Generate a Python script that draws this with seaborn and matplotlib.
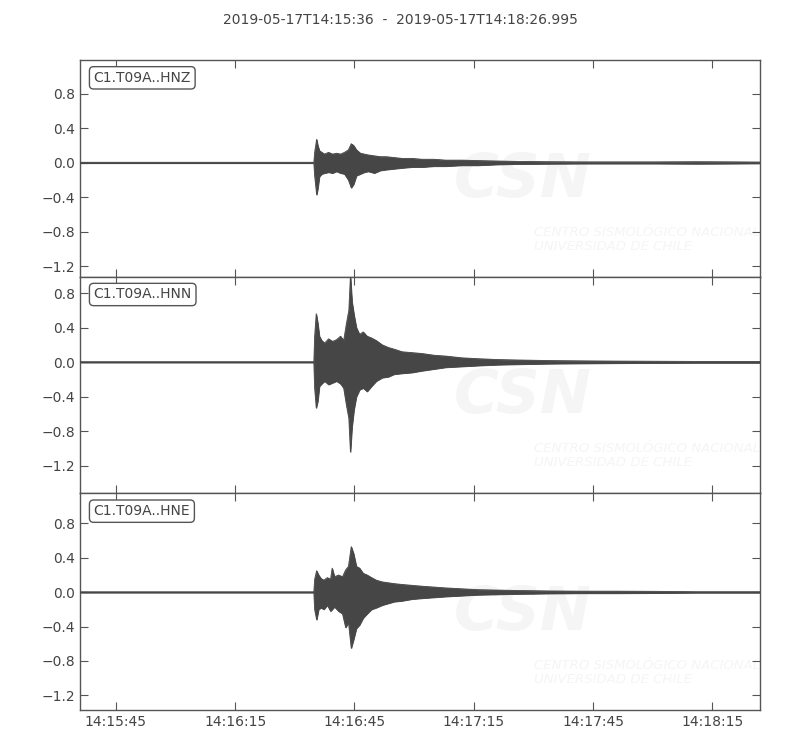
import numpy as np
import pandas as pd
import matplotlib
matplotlib.use("Agg")
import matplotlib.pyplot as plt
import matplotlib.dates as mdates
import seaborn as sns

sns.set_theme(style="ticks", rc={
    "xtick.direction": "in", "ytick.direction": "in",
    "xtick.top": True, "ytick.right": True,
    "xtick.major.size": 6, "ytick.major.size": 6,
    "xtick.major.width": 0.8, "ytick.major.width": 0.8,
    "axes.edgecolor": "#555555", "axes.linewidth": 1.0,
    "xtick.color": "#555555", "ytick.color": "#555555",
    "xtick.labelcolor": "#444444", "ytick.labelcolor": "#444444",
    "xtick.labelsize": 10, "ytick.labelsize": 10,
})
plt.rcParams["font.family"] = ["DejaVu Sans"]

start = pd.Timestamp("2019-05-17 14:15:36")
end = pd.Timestamp("2019-05-17 14:18:26.995")
title = "2019-05-17T14:15:36  -  2019-05-17T14:18:26.995"

# envelope of each trace (seconds after start, upper and lower amplitude)
hnz_t = [0, 58.8, 59.0, 59.5, 59.8, 60.2, 60.8, 61.5, 62.5, 63.5, 64.5, 65.5, 66.5, 67.5, 68.2, 68.8,
         69.5, 70.5, 71.5, 72.5, 74, 75.5, 77, 79, 81, 83.5, 86, 89, 92, 96, 100, 105, 110, 118, 126,
         135, 145, 155, 165, 171]
hnz_up = [0.005, 0.005, 0.12, 0.27, 0.2, 0.14, 0.12, 0.1, 0.12, 0.1, 0.11, 0.1, 0.12, 0.15, 0.22, 0.2,
          0.15, 0.11, 0.1, 0.09, 0.08, 0.07, 0.07, 0.06, 0.05, 0.05, 0.04, 0.04, 0.03, 0.03, 0.025, 0.02,
          0.015, 0.012, 0.01, 0.01, 0.01, 0.012, 0.01, 0.008]
hnz_lo = [-0.005, -0.005, -0.15, -0.37, -0.3, -0.16, -0.13, -0.12, -0.11, -0.12, -0.1, -0.12, -0.13,
          -0.2, -0.29, -0.25, -0.15, -0.13, -0.11, -0.1, -0.12, -0.09, -0.08, -0.07, -0.06, -0.05, -0.05,
          -0.04, -0.04, -0.03, -0.03, -0.02, -0.015, -0.012, -0.01, -0.01, -0.01, -0.012, -0.01, -0.008]

hnn_t = [0, 58.8, 59.0, 59.4, 59.8, 60.2, 60.8, 61.5, 62.5, 63.5, 64.5, 65.5, 66.3, 67.0, 67.6, 68.0,
         68.4, 68.9, 69.5, 70.3, 71.2, 72.2, 73.3, 74.5, 76, 77.5, 79, 81, 83.5, 86, 89, 92, 96, 100,
         105, 110, 118, 126, 135, 145, 155, 165, 171]
hnn_up = [0.005, 0.005, 0.3, 0.56, 0.45, 0.3, 0.25, 0.22, 0.27, 0.24, 0.26, 0.3, 0.25, 0.45, 0.6, 1.0,
          0.7, 0.55, 0.4, 0.32, 0.35, 0.3, 0.28, 0.25, 0.2, 0.17, 0.15, 0.12, 0.11, 0.1, 0.08, 0.07, 0.05,
          0.04, 0.03, 0.025, 0.018, 0.015, 0.012, 0.01, 0.008, 0.008, 0.008]
hnn_lo = [-0.005, -0.005, -0.3, -0.53, -0.45, -0.28, -0.25, -0.22, -0.26, -0.24, -0.22, -0.25, -0.3,
          -0.5, -0.65, -1.04, -0.75, -0.55, -0.4, -0.32, -0.3, -0.34, -0.28, -0.22, -0.18, -0.17, -0.14,
          -0.13, -0.12, -0.1, -0.08, -0.06, -0.05, -0.04, -0.03, -0.025, -0.018, -0.015, -0.012, -0.01,
          -0.008, -0.008, -0.008]

hne_t = [0, 58.8, 59.0, 59.5, 60.0, 60.6, 61.3, 62.2, 63.0, 63.4, 64.0, 65.0, 66.0, 66.8, 67.5, 68.2,
         68.8, 69.5, 70.3, 71.2, 72.2, 73.3, 74.5, 76, 77.5, 79, 81, 83.5, 86, 89, 92, 96, 100, 105, 110,
         118, 126, 135, 145, 155, 165, 171]
hne_up = [0.005, 0.005, 0.15, 0.25, 0.2, 0.16, 0.14, 0.17, 0.15, 0.28, 0.18, 0.2, 0.18, 0.26, 0.3, 0.53,
          0.45, 0.3, 0.28, 0.22, 0.2, 0.17, 0.14, 0.12, 0.11, 0.1, 0.09, 0.08, 0.07, 0.06, 0.05, 0.04,
          0.03, 0.025, 0.02, 0.015, 0.012, 0.012, 0.01, 0.006, 0.006, 0.006]
hne_lo = [-0.005, -0.005, -0.2, -0.32, -0.2, -0.18, -0.2, -0.15, -0.22, -0.2, -0.17, -0.22, -0.25, -0.41,
          -0.35, -0.65, -0.55, -0.42, -0.38, -0.3, -0.25, -0.2, -0.18, -0.15, -0.13, -0.11, -0.1, -0.08,
          -0.07, -0.06, -0.05, -0.04, -0.03, -0.025, -0.02, -0.015, -0.012, -0.012, -0.01, -0.006,
          -0.006, -0.006]

channels = ["C1.T09A..HNZ", "C1.T09A..HNN", "C1.T09A..HNE"]
ylims = [(-1.32, 1.19), (-1.52, 0.99), (-1.37, 1.15)]
yticks = [-1.2, -0.8, -0.4, 0.0, 0.4, 0.8]
ytick_labels = ["\u22121.2", "\u22120.8", "\u22120.4", "0.0", "0.4", "0.8"]

traces = [(hnz_t, hnz_up, hnz_lo), (hnn_t, hnn_up, hnn_lo), (hne_t, hne_up, hne_lo)]
color = "#464646"
wm_color = "#f5f5f5"

fig = plt.figure(figsize=(8, 7.5), dpi=100)
h = 650 / 3 / 750
axes = []
for i in range(3):
    ax = fig.add_axes([0.1, 1 - 60 / 750 - (i + 1) * h, 0.85, h])
    axes.append(ax)

for ax, name, (tt, up, lo), yl in zip(axes, channels, traces, ylims):
    df = pd.DataFrame({"time": start + pd.to_timedelta(tt, unit="s"), "up": up, "lo": lo})
    # faint watermark
    ax.text(0.55, 0.31, "CSN", transform=ax.transAxes, fontsize=44, fontweight="bold",
            style="italic", color=wm_color, zorder=0, va="bottom", clip_on=True)
    ax.text(0.668, 0.11, "CENTRO SISMOLÓGICO NACIONAL\nUNIVERSIDAD DE CHILE", transform=ax.transAxes,
            fontsize=9.5, style="italic", color=wm_color, zorder=0, linespacing=1.1,
            va="bottom", clip_on=True)
    ax.fill_between(df["time"], df["lo"], df["up"], color=color, lw=0.6, zorder=2)
    sns.lineplot(data=df, x="time", y="up", ax=ax, color=color, lw=0.6, zorder=3)
    sns.lineplot(data=df, x="time", y="lo", ax=ax, color=color, lw=0.6, zorder=3)
    ax.set_xlim(start, end)
    ax.set_ylim(*yl)
    ax.set_yticks(yticks)
    ax.set_yticklabels(ytick_labels)
    ax.set_xlabel("")
    ax.set_ylabel("")
    ax.xaxis.set_major_locator(mdates.SecondLocator(bysecond=[15, 45]))
    ax.xaxis.set_major_formatter(mdates.DateFormatter("%H:%M:%S"))
    ax.text(0.02, 0.95, name, transform=ax.transAxes, va="top", ha="left", fontsize=10,
            color="#444444", zorder=5,
            bbox=dict(boxstyle="round,pad=0.3", fc="white", ec="#555555", lw=1.0))

for ax in axes[:2]:
    ax.tick_params(labelbottom=False)

fig.text(0.5, 0.973, title, ha="center", va="center", fontsize=10, color="#444444")

fig.savefig("out.png", dpi=100)
